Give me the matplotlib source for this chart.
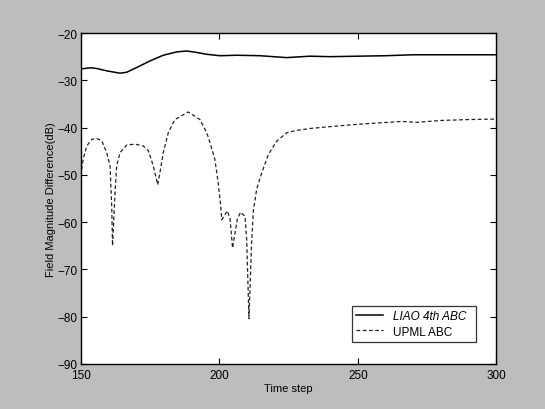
import matplotlib
matplotlib.use("Agg")
import matplotlib.pyplot as plt

plt.rcParams['font.family'] = ['Liberation Sans', 'DejaVu Sans']

# LIAO 4th ABC (solid)
liao_t = [150, 153.6, 155.8, 159.4, 164.2, 166.6, 170.2, 175, 179.8, 184.6, 188.2,
          191.8, 195.5, 200.3, 206.3, 214.7, 224.3, 232.7, 240, 250, 260, 270, 285, 300]
liao_db = [-27.6, -27.35, -27.5, -28.0, -28.5, -28.3, -27.3, -25.9, -24.7, -24.0, -23.8,
           -24.1, -24.5, -24.8, -24.7, -24.8, -25.2, -24.9, -25.0, -24.9, -24.8, -24.6, -24.6, -24.6]

# UPML ABC (dashed)
upml_t = [150, 150.9, 152.2, 154, 155.8, 157.6, 159.4, 160.6, 161.2, 161.5, 162.4, 163,
          164.2, 166.6, 169.6, 172.6, 174.4, 176.2, 177.8, 178.6, 179.8, 181.6, 184, 188.8,
          193, 195.5, 196.6, 198.4, 199.6, 200.5, 200.9, 202.9, 203.9, 204.8, 206.5, 207.7,
          209.3, 209.9, 210.7, 211.7, 212.3, 213.5, 215.3, 217.7, 220.7, 224.3, 228,
          232.7, 240, 250, 258, 266, 271, 280, 290, 300]
upml_db = [-50.2, -46.7, -43.9, -42.5, -42.3, -42.8, -45.3, -48.1, -56.6, -65, -53.7, -48.1,
           -45.3, -43.7, -43.5, -43.9, -44.9, -48.1, -52.1, -49.5, -45.3, -41.1, -38.3, -36.7,
           -38.3, -41.1, -43.1, -46.7, -51.6, -56.5, -59.5, -57.6, -59.4, -65.5, -59.4, -57.9,
           -58.8, -63.8, -80.4, -63.8, -57.6, -53.0, -49.6, -45.7, -42.9, -41.1, -40.6,
           -40.2, -39.8, -39.3, -39.0, -38.7, -38.9, -38.5, -38.3, -38.2]

xticks = [150, 200, 250, 300]
yticks = [-90, -80, -70, -60, -50, -40, -30, -20]

fig = plt.figure(figsize=(5.45, 4.10), dpi=100, facecolor='#bdbdbd')
ax = fig.add_axes([0.148, 0.110, 0.763, 0.807])
ax.set_facecolor('white')

ax.plot(liao_t, liao_db, color='black', lw=1.1, label='LIAO 4th ABC')
ax.plot(upml_t, upml_db, color='#222222', lw=0.9, linestyle=(0, (3, 2)), label='UPML ABC')

ax.set_xlim(150, 300)
ax.set_ylim(-90, -20)
ax.set_xticks(xticks)
ax.set_yticks(yticks)
ax.tick_params(direction='in', top=True, right=True, length=4, labelsize=8.5)
ax.tick_params(axis='x', pad=4)
ax.tick_params(axis='y', pad=2)
for s in ax.spines.values():
    s.set_linewidth(1.0)

ax.set_xlabel('Time step', fontsize=8, labelpad=1)
ax.set_ylabel('Field Magnitude Difference(dB)', fontsize=8, labelpad=1)

leg = ax.legend(loc='lower left', bbox_to_anchor=(0.652, 0.067, 0.299, 0.104), mode='expand',
                fontsize=8.5, frameon=True, fancybox=False, edgecolor='black',
                handlelength=2.3, borderaxespad=0, borderpad=0.35, labelspacing=0.3)
leg.get_frame().set_linewidth(0.9)
leg.get_texts()[0].set_style('italic')

fig.savefig('out.png', dpi=100, facecolor=fig.get_facecolor())
